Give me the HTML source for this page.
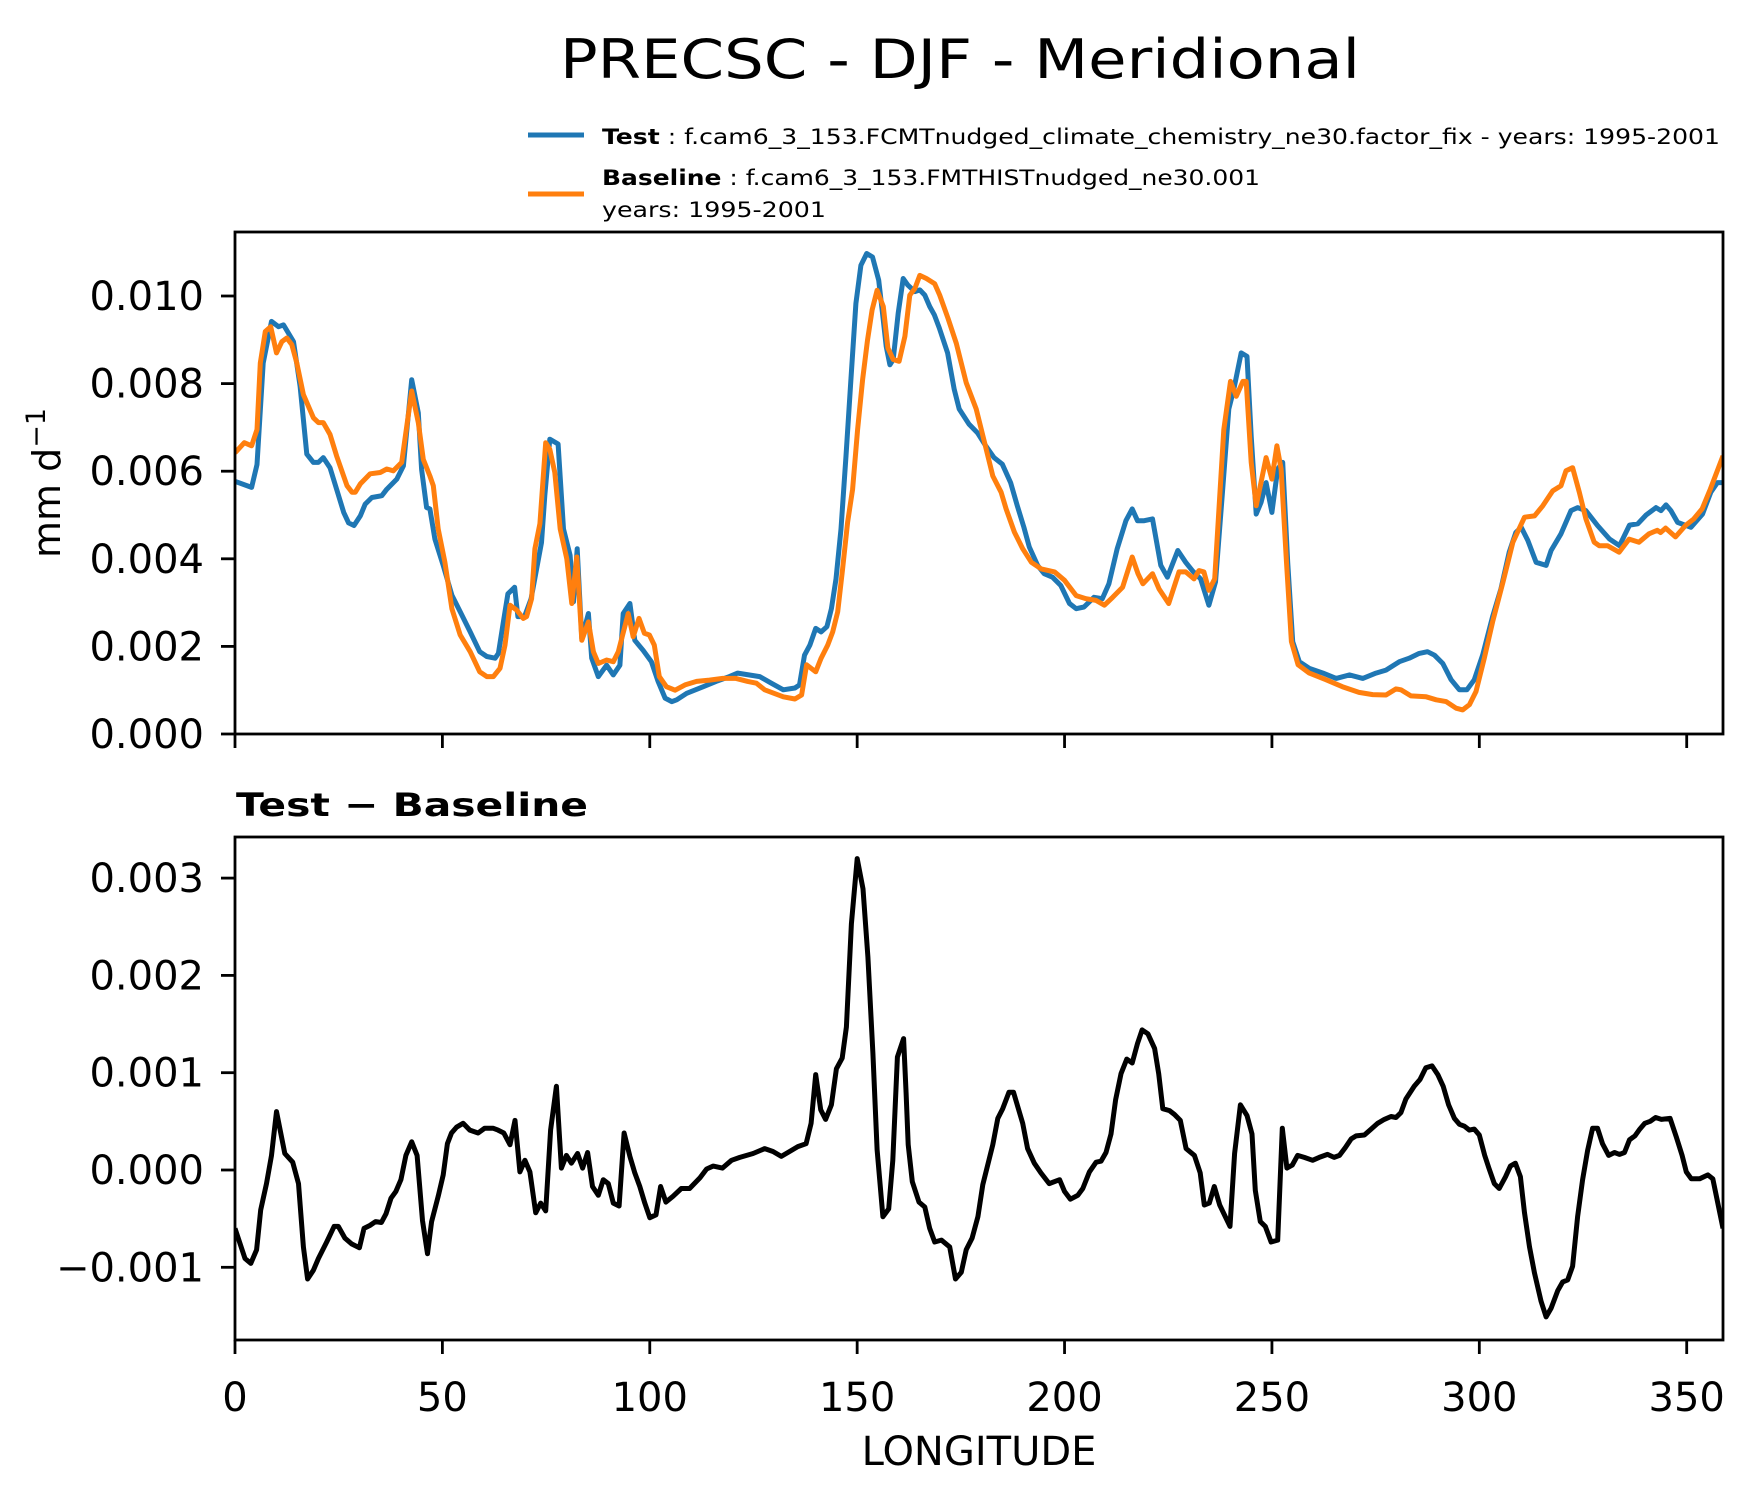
<!DOCTYPE html>
<html><head><meta charset="utf-8"><style>
html,body{margin:0;padding:0;background:#fff}
svg{display:block}
text{font-family:"DejaVu Sans","Liberation Sans",sans-serif;fill:#000}
</style></head><body>
<svg id="chart" width="1756" height="1496" viewBox="0 0 1756 1496" xmlns="http://www.w3.org/2000/svg">
<rect width="1756" height="1496" fill="#fff"/>
<text x="960" y="78" font-size="54" text-anchor="middle" textLength="800" lengthAdjust="spacingAndGlyphs">PRECSC - DJF - Meridional</text>
<g>
<line x1="528" y1="135" x2="584" y2="135" stroke="#1f77b4" stroke-width="5"/>
<text x="602" y="144" font-size="21" textLength="1118" lengthAdjust="spacingAndGlyphs"><tspan font-weight="bold">Test</tspan> : f.cam6_3_153.FCMTnudged_climate_chemistry_ne30.factor_fix - years: 1995-2001</text>
<line x1="528" y1="194" x2="584" y2="194" stroke="#ff7f0e" stroke-width="5"/>
<text x="602" y="185" font-size="21" textLength="658" lengthAdjust="spacingAndGlyphs"><tspan font-weight="bold">Baseline</tspan> : f.cam6_3_153.FMTHISTnudged_ne30.001</text>
<text x="602" y="217" font-size="21" textLength="224" lengthAdjust="spacingAndGlyphs">years: 1995-2001</text>
</g>
<g id="gtop"></g>
<g id="gbot"></g>
<text transform="translate(60,483) rotate(-90)" font-size="38" text-anchor="middle">mm d<tspan dy="-15" font-size="27">−1</tspan></text>
<text x="236" y="816" font-size="32" font-weight="bold" textLength="352" lengthAdjust="spacingAndGlyphs">Test − Baseline</text>
<text x="979" y="1465" font-size="40" text-anchor="middle">LONGITUDE</text>
</svg>
<script>
const testLon=[0,4,5.3,6.8,8.8,10.5,11.7,14.1,15.7,17.3,18.9,20.1,21.3,22.9,24.5,26.2,27.4,28.7,30.2,31.4,33,35.4,36.6,39,40.6,42.6,44.2,45,46.2,47,48.2,50.2,52.3,54.3,56.7,59,60.7,62.7,63.5,64.6,65.8,67.4,68.2,69.8,71.4,73.9,74.7,75.9,77.9,79.2,80.8,81.6,82.5,83.6,85.2,86,87.6,89.6,91.2,92.8,93.6,95.2,96.4,98.4,100.4,102,103.7,105.3,106.5,108.9,112.9,116,119.2,121.2,126.5,129.3,132.2,135,136.1,137.3,138.6,140,141.3,142.7,143.8,144.9,146.1,147.3,148.5,149.7,150.9,152.3,153.7,155.2,156.1,157,157.9,158.7,159.9,161.1,162.2,163.9,165.1,166.3,167.5,168.6,169.8,171.8,173.4,174.6,177,179,181,183,185,187,188.6,190.2,191.5,193.5,195.1,197.1,199.1,201.2,202.8,204.7,207.1,209.1,210.7,212.7,214.8,216.3,217.6,219.2,221.2,223.2,224.8,227.3,229.2,230.8,232.8,234.8,236.4,238,239.6,240.8,242.6,244,245,246.2,247.4,248.6,250,251.4,252.6,253.8,255,256.6,259,262.3,265.5,268.7,271.9,275.1,277.5,280.7,283.1,285.5,287.5,289.2,291.2,293.2,295.2,297,298.8,300.8,303.2,305.2,307.2,308.8,310.1,311.7,313.7,316.1,317.3,319.7,322.1,323.7,325.7,328.5,331.4,333.8,336.2,338.2,340.2,342.6,343.8,345,346.2,347.8,351,353.8,355.8,357.4,358.75];
const testVal=[5.77,5.63,6.15,8.47,9.42,9.30,9.34,8.96,7.94,6.39,6.20,6.20,6.31,6.08,5.59,5.06,4.82,4.76,4.98,5.25,5.40,5.44,5.59,5.82,6.12,8.09,7.33,6.04,5.17,5.14,4.45,3.85,3.17,2.79,2.33,1.88,1.77,1.73,1.84,2.49,3.20,3.35,2.68,2.68,3.09,4.37,5.44,6.73,6.62,4.68,4.08,3.02,4.23,2.18,2.75,1.73,1.31,1.57,1.35,1.57,2.75,2.98,2.14,1.91,1.65,1.20,0.82,0.74,0.78,0.93,1.08,1.20,1.31,1.39,1.31,1.16,1.01,1.05,1.12,1.80,2.03,2.41,2.33,2.45,2.86,3.54,4.68,6.35,8.09,9.83,10.70,10.97,10.89,10.36,9.61,8.85,8.43,8.55,9.61,10.40,10.25,10.10,10.14,10.02,9.76,9.57,9.27,8.70,7.87,7.42,7.07,6.88,6.58,6.31,6.16,5.74,5.21,4.72,4.27,3.85,3.66,3.58,3.39,2.98,2.86,2.90,3.12,3.09,3.43,4.23,4.87,5.14,4.87,4.87,4.91,3.85,3.58,4.19,3.92,3.73,3.54,2.94,3.47,5.44,7.42,7.87,8.70,8.62,6.80,5.02,5.29,5.74,5.06,6.05,6.20,3.92,2.11,1.65,1.50,1.39,1.27,1.35,1.27,1.39,1.46,1.65,1.73,1.84,1.88,1.80,1.61,1.24,1.01,1.01,1.24,1.80,2.68,3.31,4.15,4.60,4.72,4.42,3.92,3.85,4.19,4.57,5.10,5.17,5.10,4.76,4.45,4.30,4.77,4.80,5.00,5.17,5.10,5.23,5.10,4.83,4.72,5.02,5.52,5.74,5.74];
const baseLon=[0,2.25,4,5.3,6.1,7.3,8.6,10,11.3,12.5,13.7,14.9,16.5,18.9,20.1,21.3,22.9,24.5,27,28.2,29,30.2,32.6,35,36.6,38.2,40.2,42.6,44.2,45.4,47,47.8,49,50.6,52.3,54.3,56.7,59,60.7,62.3,63.9,65.1,66.3,67.9,69.5,70.3,71.5,72.3,73.5,74.9,75.9,77.1,78.4,80,81.2,82.4,83.6,85.2,86.4,87.6,89.6,91.2,92.4,94.8,96,97.4,98.7,99.9,101.1,102.3,104,106.1,108.5,111.3,114.4,117.6,120.8,123.6,125.7,127.7,132.2,135,136.6,137.8,140,141.3,142.9,144.1,145.3,146.5,147.7,148.9,150.1,151.3,152.5,153.6,154.8,156.3,157.4,158.7,160.1,161.5,162.7,163.9,165.1,166.7,168.7,169.9,171.9,173.9,176.3,178.7,180.7,182.7,184.7,185.9,187.9,189.9,192,194.4,197.6,200,202.8,205.2,207.6,209.6,211.6,214,216.3,217.7,218.9,221.2,222.8,225.1,227.6,229.2,231.2,232.4,233.6,234.8,236.2,238.4,240,241.4,243,243.8,245,246.2,248.6,250,251.2,252.2,253.5,254.7,256.3,259,263,267,271,274.3,277.5,279.9,281.1,283.5,287.2,289.6,292,294.4,296,297.6,299.2,301.2,303.2,305.7,308.1,310.9,313.3,315.3,317.7,319.7,320.9,322.5,324.1,325.7,327.7,328.9,330.9,333.7,336.1,338.5,340.9,342.9,343.7,344.9,347.3,349.7,351.7,353.7,355.7,358.75];
const baseVal=[6.42,6.65,6.58,6.95,8.47,9.19,9.30,8.70,8.96,9.04,8.89,8.47,7.75,7.22,7.11,7.11,6.84,6.35,5.67,5.52,5.52,5.71,5.94,5.97,6.05,6.01,6.20,7.83,7.11,6.27,5.89,5.67,4.68,3.92,2.86,2.26,1.88,1.42,1.31,1.31,1.50,2.03,2.94,2.83,2.64,2.68,3.09,4.23,4.80,6.65,6.50,5.97,4.68,4.00,2.98,4.04,2.14,2.56,1.88,1.61,1.69,1.65,1.88,2.75,2.22,2.64,2.30,2.26,2.03,1.31,1.08,1.00,1.12,1.20,1.23,1.27,1.27,1.20,1.16,1.01,0.85,0.80,0.89,1.58,1.42,1.73,2.03,2.33,2.79,3.77,4.83,5.59,6.95,8.09,8.99,9.68,10.13,9.76,8.81,8.55,8.51,9.08,10.02,10.17,10.47,10.40,10.28,10.02,9.49,8.92,8.02,7.42,6.66,5.89,5.52,5.14,4.61,4.23,3.92,3.77,3.70,3.51,3.16,3.09,3.05,2.94,3.12,3.35,4.04,3.66,3.43,3.66,3.31,2.98,3.70,3.70,3.54,3.73,3.70,3.28,3.54,6.95,8.05,7.71,8.05,8.05,6.20,5.21,6.31,5.82,6.58,6.05,3.92,2.11,1.58,1.39,1.24,1.08,0.95,0.90,0.89,1.03,1.01,0.87,0.85,0.78,0.74,0.59,0.55,0.67,0.97,1.73,2.56,3.47,4.38,4.95,4.98,5.21,5.55,5.67,6.01,6.08,5.52,4.91,4.38,4.30,4.30,4.15,4.45,4.38,4.57,4.65,4.60,4.70,4.50,4.76,4.91,5.14,5.59,6.35];
const diffLon=[0,2.4,3.8,5.2,6.2,7.6,8.8,10,12,13.9,15.3,16.5,17.5,18.9,20.1,22.1,23.9,24.9,26.5,28.1,30,31.1,32.5,33.9,35.3,36.4,37.6,38.8,40,41.2,42.6,43.9,45.2,46.4,47.4,49,50.2,51.2,52.2,53.4,55,56.6,58.6,60.2,62.2,63.4,64.8,66.3,67.5,68.7,69.9,71.1,72.5,73.7,74.9,76.1,77.5,78.7,79.9,81.1,82.6,83.8,85,86.2,87.6,88.8,90,91.2,92.6,93.8,95.2,96.4,97.6,98.8,100,101.5,102.6,103.9,105.6,107.6,109.6,112.1,113.7,115.3,117.5,119.7,121.7,124.9,127.7,129.7,131.7,133.7,135.7,137.7,138.9,140,141.2,142.4,143.8,145,146.4,147.4,148.6,150,151.4,152.6,153.8,154.8,156.2,157.6,158.6,159.7,161.2,161.8,162.3,163.3,164.9,166.3,167.5,168.7,170.3,172.3,173.7,175.1,176.3,177.7,179.1,180.3,182.7,183.9,185.1,186.6,187.7,189.9,191.1,192.7,194.3,196.3,198.8,200,201.4,203.2,204.4,206,207.6,208.8,210,211.2,212.3,213.6,215,216.3,217.6,218.7,220.1,221.7,222.7,223.7,225.3,226.5,227.9,229.3,231.3,232.7,233.7,234.9,236.1,237.4,239.9,241,242.4,244,245.2,246,247.2,248.4,249.8,251.4,252.5,253.6,254.9,256.2,257.8,259.8,261.4,263.4,265,266.3,267.7,269.1,270.3,272.3,273.9,275.5,277.1,278.7,279.9,281.1,282.3,284.3,285.7,287.1,288.6,290,291.3,292.6,294,295.2,296.4,297.6,298.8,300,301.3,302.3,303.6,304.8,306.3,307.5,308.7,309.9,310.9,312.1,313.3,314.9,316.1,317.3,318.9,320.1,321.3,322.5,323.7,324.9,326.1,327.3,328.5,329.7,331.2,332.6,333.8,335,336.2,337.5,338.7,339.9,341.2,342.5,343.9,346,347.5,348.9,349.9,351.1,353.1,355.1,356.3,358.75];
const diffVal=[-0.60,-0.91,-0.96,-0.82,-0.41,-0.14,0.15,0.60,0.17,0.08,-0.14,-0.79,-1.12,-1.03,-0.91,-0.74,-0.58,-0.58,-0.70,-0.76,-0.80,-0.60,-0.57,-0.53,-0.54,-0.45,-0.29,-0.22,-0.10,0.15,0.29,0.15,-0.52,-0.86,-0.53,-0.27,-0.05,0.27,0.38,0.44,0.48,0.41,0.38,0.43,0.43,0.41,0.38,0.26,0.51,-0.02,0.10,-0.02,-0.44,-0.34,-0.42,0.41,0.86,0.02,0.15,0.07,0.17,0.02,0.18,-0.17,-0.26,-0.10,-0.14,-0.34,-0.37,0.38,0.14,-0.03,-0.17,-0.34,-0.49,-0.46,-0.17,-0.33,-0.27,-0.19,-0.19,-0.08,0.01,0.04,0.02,0.10,0.13,0.17,0.22,0.19,0.14,0.19,0.24,0.27,0.48,0.98,0.62,0.52,0.67,1.04,1.15,1.47,2.53,3.20,2.89,2.19,1.20,0.21,-0.48,-0.40,0.10,1.16,1.35,0.79,0.26,-0.12,-0.33,-0.38,-0.60,-0.74,-0.72,-0.79,-1.12,-1.05,-0.82,-0.70,-0.48,-0.15,0.26,0.53,0.63,0.80,0.80,0.48,0.22,0.07,-0.03,-0.14,-0.10,-0.22,-0.30,-0.26,-0.19,-0.02,0.08,0.09,0.18,0.37,0.72,0.99,1.14,1.10,1.30,1.44,1.40,1.25,0.99,0.63,0.61,0.57,0.51,0.22,0.15,-0.03,-0.36,-0.34,-0.17,-0.36,-0.58,0.17,0.67,0.56,0.37,-0.21,-0.53,-0.58,-0.74,-0.72,0.43,0.02,0.05,0.15,0.13,0.10,0.13,0.16,0.13,0.15,0.23,0.32,0.35,0.36,0.42,0.48,0.52,0.55,0.54,0.59,0.73,0.86,0.93,1.05,1.07,0.98,0.86,0.67,0.53,0.47,0.45,0.41,0.42,0.36,0.15,0.02,-0.14,-0.19,-0.07,0.04,0.07,-0.07,-0.44,-0.79,-1.06,-1.35,-1.51,-1.42,-1.24,-1.15,-1.13,-0.99,-0.48,-0.10,0.20,0.43,0.43,0.27,0.15,0.18,0.16,0.18,0.31,0.35,0.42,0.48,0.50,0.54,0.52,0.53,0.34,0.15,-0.02,-0.09,-0.09,-0.05,-0.09,-0.60];
const xTicks=[0,50,100,150,200,250,300,350];
const topTicks=[0,2,4,6,8,10];
const topTickLabels=["0.000","0.002","0.004","0.006","0.008","0.010"];
const botTicks=[-1,0,1,2,3];
const botTickLabels=["\u22120.001","0.000","0.001","0.002","0.003"];

const NS="http://www.w3.org/2000/svg";
const XL=235,XR=1723,XMAX=358.75;
function xs(l){return XL+(XR-XL)*l/XMAX;}
function yTop(v){return 734-v*43.8;}
function yBot(v){return 1170-v*97.3;}
function mk(tag,attrs,parent){const e=document.createElementNS(NS,tag);for(const k in attrs)e.setAttribute(k,attrs[k]);parent.appendChild(e);return e;}
function path(lons,vals,ys){return lons.map((l,i)=>(i?'L':'M')+xs(l).toFixed(1)+' '+ys(vals[i]).toFixed(1)).join(' ');}

function panel(g,yT,yB,ys,ticks,labels,showX,prefix){
  ticks.forEach((t,i)=>{
    const y=ys(t);
    const tk=mk('line',{x1:XL-14,y1:y,x2:XL,y2:y,stroke:'#000','stroke-width':2.8},g);
    
    
    const tx=mk('text',{x:204,y:y+14,'font-size':40,'text-anchor':'end'},g);
    tx.textContent=labels[i];
    
    
  });
  xTicks.forEach(t=>{
    const x=xs(t);
    const tk=mk('line',{x1:x,y1:yB,x2:x,y2:yB+14,stroke:'#000','stroke-width':2.8},g);
    
    
    if(showX){
      const tx=mk('text',{x:x,y:1411,'font-size':40,'text-anchor':'middle'},g);
      tx.textContent=String(t);
      
      
    }
  });
}
const gTop=document.getElementById('gtop'), gBot=document.getElementById('gbot');
panel(gTop,232,734,yTop,topTicks,topTickLabels,false,'top');
panel(gBot,837,1340,yBot,botTicks,botTickLabels,true,'diff');

const cp=mk('clipPath',{id:'ct'},gTop);mk('rect',{x:XL,y:232,width:XR-XL,height:502},cp);
const cb=mk('clipPath',{id:'cb'},gBot);mk('rect',{x:XL,y:837,width:XR-XL,height:503},cb);

const pt=mk('path',{d:path(testLon,testVal,yTop),fill:'none',stroke:'#1f77b4','stroke-width':5,'stroke-linejoin':'round','clip-path':'url(#ct)'},gTop);


const pb=mk('path',{d:path(baseLon,baseVal,yTop),fill:'none',stroke:'#ff7f0e','stroke-width':5,'stroke-linejoin':'round','clip-path':'url(#ct)'},gTop);


const pd=mk('path',{d:path(diffLon,diffVal,yBot),fill:'none',stroke:'#000','stroke-width':5,'stroke-linejoin':'round','clip-path':'url(#cb)'},gBot);



const f1=mk('rect',{x:XL,y:232,width:XR-XL,height:502,fill:'none',stroke:'#000','stroke-width':2.8},gTop);


const f2=mk('rect',{x:XL,y:837,width:XR-XL,height:503,fill:'none',stroke:'#000','stroke-width':2.8},gBot);


</script>
</body></html>
